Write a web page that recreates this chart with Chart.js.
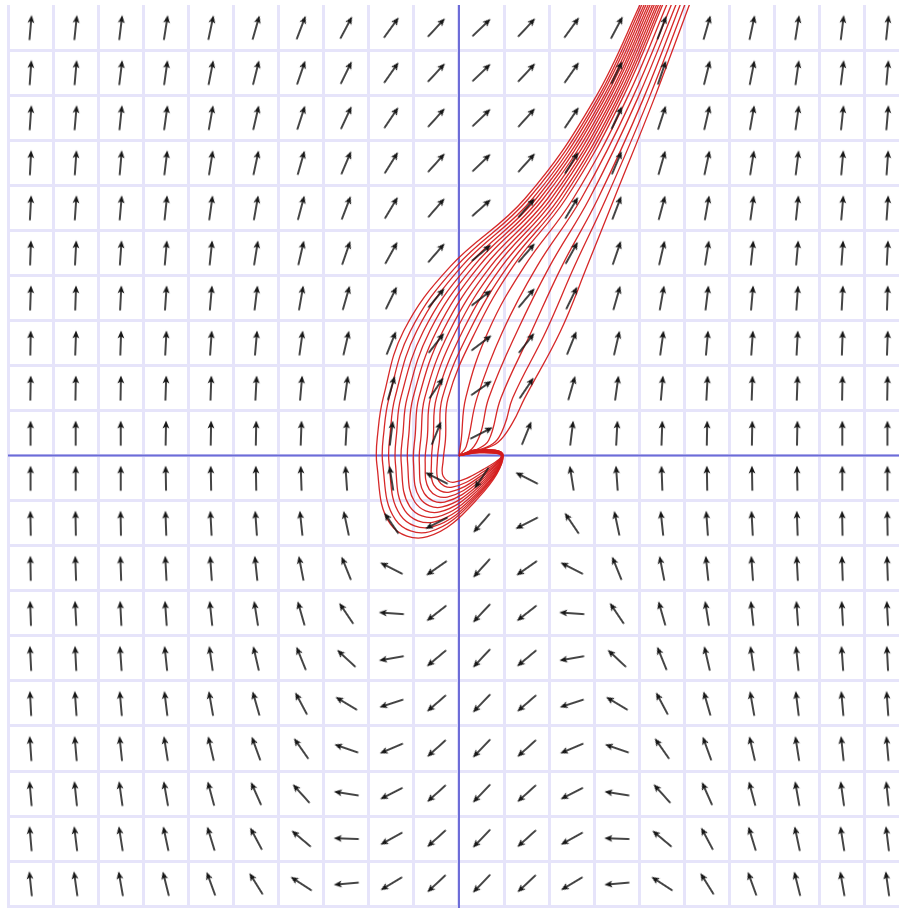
<!DOCTYPE html>
<html>
<head>
<meta charset="utf-8">
<script src="https://cdn.jsdelivr.net/npm/chart.js@4/dist/chart.umd.min.js"></script>
<style>
  html, body { margin: 0; padding: 0; background: #ffffff; overflow: hidden; }
  canvas { display: block; }
</style>
</head>
<body>
<canvas id="fieldChart" width="904" height="913"></canvas>
<script>
// arrow centres (cell middles) and their directions in degrees, clockwise from "up"
const arrowX = [-9.5, -8.5, -7.5, -6.5, -5.5, -4.5, -3.5, -2.5, -1.5, -0.5, 0.5, 1.5, 2.5, 3.5, 4.5, 5.5, 6.5, 7.5, 8.5, 9.5];
const arrowY = [9.5, 8.5, 7.5, 6.5, 5.5, 4.5, 3.5, 2.5, 1.5, 0.5, -0.5, -1.5, -2.5, -3.5, -4.5, -5.5, -6.5, -7.5, -8.5, -9.5];
const arrowAngles = [
    [5, 6, 7, 9, 12, 16, 21, 28, 36, 43, 46, 43, 36, 28, 21, 16, 12, 9, 7, 6],
    [4, 5, 7, 8, 11, 14, 19, 26, 35, 43, 46, 43, 35, 26, 19, 14, 11, 8, 7, 5],
    [4, 5, 6, 8, 10, 13, 18, 25, 34, 42, 46, 42, 34, 25, 18, 13, 10, 8, 6, 5],
    [3, 4, 5, 7, 9, 12, 16, 23, 32, 42, 46, 42, 32, 23, 16, 12, 9, 7, 5, 4],
    [3, 4, 5, 6, 8, 10, 15, 21, 31, 41, 48, 41, 31, 21, 15, 10, 8, 6, 5, 4],
    [2, 3, 4, 5, 6, 9, 13, 19, 29, 41, 50, 41, 29, 19, 13, 9, 6, 5, 4, 3],
    [2, 2, 3, 4, 5, 7, 10, 16, 26, 40, 52, 40, 26, 16, 10, 7, 5, 4, 3, 2],
    [1, 2, 2, 3, 4, 5, 8, 13, 22, 38, 53, 38, 22, 13, 8, 5, 4, 3, 2, 2],
    [1, 1, 1, 2, 2, 3, 5, 8, 16, 34, 55, 34, 16, 8, 5, 3, 2, 2, 1, 1],
    [0, 0, 0, 1, 1, 1, 2, 3, 7, 22, 63, 22, 7, 3, 2, 1, 1, 1, 0, 0],
    [0, 0, 0, -1, -1, -1, -2, -4, -9, -63, -146, -63, -9, -4, -2, -1, -1, -1, 0, 0],
    [-1, -1, -1, -2, -3, -4, -6, -12, -34, -117, -139, -117, -34, -12, -6, -4, -3, -2, -1, -1],
    [-1, -2, -2, -3, -4, -6, -11, -22, -63, -125, -138, -125, -63, -22, -11, -6, -4, -3, -2, -2],
    [-2, -3, -3, -4, -6, -9, -16, -34, -86, -128, -137, -128, -86, -34, -16, -9, -6, -4, -3, -3],
    [-3, -3, -4, -6, -8, -13, -22, -47, -100, -130, -137, -130, -100, -47, -22, -13, -8, -6, -4, -3],
    [-3, -4, -5, -7, -10, -16, -28, -59, -108, -131, -136, -131, -108, -59, -28, -16, -10, -7, -5, -4],
    [-4, -5, -6, -9, -13, -20, -35, -71, -113, -132, -136, -132, -113, -71, -35, -20, -13, -9, -6, -5],
    [-5, -6, -8, -10, -15, -24, -42, -81, -117, -132, -136, -132, -117, -81, -42, -24, -15, -10, -8, -6],
    [-5, -7, -9, -12, -17, -28, -50, -88, -119, -132, -136, -132, -119, -88, -50, -28, -17, -12, -9, -7],
    [-6, -8, -10, -14, -20, -32, -57, -95, -121, -133, -136, -133, -121, -95, -57, -32, -20, -14, -10, -8]
];

// trajectories that wind once round the origin before leaving up and to the right
const loopCurves = [
    [[0,0],[0.45,0.14],[0.98,0],[0.42,-0.95],[-0.70,-1.80],[-1.52,-1.52],[-1.82,-0.20],[-1.79,0.60],[-1.68,1.28],[-1.23,2.76],[-0.19,4.2],[1.46,5.7],[3.00,7.9],[4.15,10.3]],
    [[0,0],[0.45,0.13],[0.98,0],[0.43,-0.89],[-0.65,-1.69],[-1.41,-1.42],[-1.69,-0.19],[-1.66,0.58],[-1.55,1.28],[-1.08,2.76],[-0.06,4.2],[1.54,5.7],[3.06,7.9],[4.19,10.3]],
    [[0,0],[0.45,0.13],[0.97,0],[0.44,-0.84],[-0.59,-1.58],[-1.30,-1.32],[-1.55,-0.18],[-1.52,0.55],[-1.42,1.28],[-0.94,2.76],[0.06,4.2],[1.63,5.7],[3.11,7.9],[4.24,10.3]],
    [[0,0],[0.45,0.12],[0.97,0],[0.46,-0.78],[-0.54,-1.47],[-1.20,-1.22],[-1.41,-0.17],[-1.38,0.53],[-1.29,1.28],[-0.79,2.76],[0.19,4.2],[1.71,5.7],[3.17,7.9],[4.28,10.3]],
    [[0,0],[0.45,0.11],[0.97,0],[0.47,-0.72],[-0.48,-1.36],[-1.09,-1.13],[-1.28,-0.16],[-1.24,0.51],[-1.15,1.28],[-0.65,2.76],[0.32,4.2],[1.79,5.7],[3.22,7.9],[4.33,10.3]],
    [[0,0],[0.45,0.10],[0.96,0],[0.48,-0.66],[-0.43,-1.25],[-0.98,-1.03],[-1.14,-0.15],[-1.11,0.49],[-1.02,1.28],[-0.50,2.76],[0.44,4.2],[1.87,5.7],[3.28,7.9],[4.37,10.3]],
    [[0,0],[0.45,0.10],[0.96,0],[0.49,-0.60],[-0.37,-1.14],[-0.87,-0.94],[-1.01,-0.15],[-0.97,0.46],[-0.89,1.28],[-0.36,2.76],[0.57,4.2],[1.96,5.7],[3.33,7.9],[4.42,10.3]],
    [[0,0],[0.45,0.09],[0.96,0],[0.50,-0.54],[-0.32,-1.03],[-0.77,-0.84],[-0.88,-0.14],[-0.84,0.44],[-0.76,1.28],[-0.21,2.76],[0.70,4.2],[2.04,5.7],[3.39,7.9],[4.46,10.3]],
    [[0,0],[0.45,0.08],[0.95,0],[0.51,-0.48],[-0.26,-0.92],[-0.66,-0.75],[-0.75,-0.13],[-0.70,0.42],[-0.63,1.28],[-0.07,2.76],[0.82,4.2],[2.12,5.7],[3.44,7.9],[4.51,10.3]],
    [[0,0],[0.45,0.07],[0.95,0],[0.53,-0.42],[-0.21,-0.81],[-0.56,-0.65],[-0.61,-0.12],[-0.57,0.40],[-0.50,1.28],[0.08,2.76],[0.95,4.2],[2.21,5.7],[3.50,7.9],[4.55,10.3]],
    [[0,0],[0.45,0.07],[0.94,0],[0.54,-0.36],[-0.15,-0.70],[-0.45,-0.56],[-0.48,-0.11],[-0.43,0.37],[-0.37,1.28],[0.23,2.76],[1.08,4.2],[2.29,5.7],[3.55,7.9],[4.60,10.3]],
    [[0,0],[0.45,0.06],[0.94,0],[0.55,-0.30],[-0.10,-0.59],[-0.35,-0.46],[-0.35,-0.10],[-0.30,0.35],[-0.24,1.28],[0.37,2.76],[1.20,4.2],[2.37,5.7],[3.61,7.9],[4.64,10.3]]
];

// trajectories that leave the origin straight towards the upper right
const directCurves = [
    [[0,0],[0.05,0.35],[0.15,1.28],[0.65,2.76],[1.45,4.2],[2.53,5.7],[3.71,7.9],[4.73,10.3]],
    [[0,0],[0.16,0.2],[0.40,1.28],[0.97,2.76],[1.73,4.2],[2.71,5.7],[3.83,7.9],[4.83,10.3]],
    [[0,0],[0.28,0.14],[0.48,0.5],[0.66,1.28],[1.29,2.76],[2.01,4.2],[2.89,5.7],[3.95,7.9],[4.93,10.3]],
    [[0,0],[0.36,0.12],[0.66,0.34],[0.93,1.28],[1.61,2.76],[2.28,4.2],[3.08,5.7],[4.08,7.9],[5.02,10.3]],
    [[0,0],[0.42,0.12],[0.8,0.3],[1.02,0.7],[1.19,1.28],[1.93,2.76],[2.56,4.2],[3.26,5.7],[4.20,7.9],[5.12,10.3]],
    [[0,0],[0.45,0.12],[0.86,0.29],[1.19,0.73],[1.46,1.28],[2.25,2.76],[2.84,4.2],[3.44,5.7],[4.32,7.9],[5.22,10.3]]
];

document.addEventListener('DOMContentLoaded', function() {
    // small up-pointing arrow used as the point style, rotated per point
    const arrowImg = document.createElement('canvas');
    arrowImg.width = 30;
    arrowImg.height = 30;
    const a = arrowImg.getContext('2d');
    a.strokeStyle = '#161616';
    a.fillStyle = '#161616';
    a.lineWidth = 1.6;
    a.lineCap = 'round';
    a.beginPath();
    a.moveTo(15, 27);
    a.lineTo(15, 6);
    a.stroke();
    a.beginPath();
    a.moveTo(15, 2.5);
    a.lineTo(11.6, 10.5);
    a.lineTo(15, 8.5);
    a.lineTo(18.4, 10.5);
    a.closePath();
    a.fill();

    const arrowPoints = [];
    const arrowRot = [];
    arrowY.forEach(function(y, r) {
        arrowX.forEach(function(x, c) {
            arrowPoints.push({ x: x, y: y });
            arrowRot.push(arrowAngles[r][c]);
        });
    });

    const curveSets = loopCurves.concat(directCurves).map(function(curve) {
        return {
            data: curve.map(function(p) { return { x: p[0], y: p[1] }; }),
            showLine: true,
            borderColor: 'rgba(212, 28, 28, 0.95)',
            borderWidth: 1.3,
            pointRadius: 0,
            tension: 0.4,
            order: 2
        };
    });

    const axisLines = {
        id: 'axisLines',
        beforeDatasetsDraw(chart) {
            const { ctx, chartArea, scales } = chart;
            const x0 = scales.x.getPixelForValue(0);
            const y0 = scales.y.getPixelForValue(0);
            ctx.save();
            ctx.strokeStyle = '#6c6cd8';
            ctx.lineWidth = 2;
            ctx.beginPath();
            ctx.moveTo(x0, chartArea.top);
            ctx.lineTo(x0, chartArea.bottom);
            ctx.moveTo(chartArea.left, y0);
            ctx.lineTo(chartArea.right, y0);
            ctx.stroke();
            ctx.restore();
        }
    };

    const gridColor = function(c) {
        return c.tick && c.tick.value === 10 ? 'rgba(0,0,0,0)' : '#e6e4fa';
    };

    new Chart(document.getElementById('fieldChart').getContext('2d'), {
        type: 'scatter',
        data: {
            datasets: [{
                data: arrowPoints,
                pointStyle: arrowImg,
                pointRotation: function(c) { return arrowRot[c.dataIndex] || 0; },
                pointRadius: 4,
                showLine: false,
                order: 1
            }].concat(curveSets)
        },
        options: {
            responsive: false,
            animation: false,
            devicePixelRatio: 1,
            events: [],
            layout: { padding: { left: 8, top: 5, right: 0, bottom: 0 } },
            plugins: {
                legend: { display: false },
                tooltip: { enabled: false }
            },
            scales: {
                x: {
                    type: 'linear',
                    min: -10,
                    max: 9.757,
                    border: { display: false },
                    grid: { color: gridColor, lineWidth: 3, drawTicks: false },
                    ticks: { display: false, stepSize: 1, includeBounds: false, padding: 0 },
                    afterFit: function(s) { s.height = 0; s.paddingLeft = 0; s.paddingRight = 0; }
                },
                y: {
                    type: 'linear',
                    min: -10.04,
                    max: 10,
                    border: { display: false },
                    grid: { color: gridColor, lineWidth: 3, drawTicks: false },
                    ticks: { display: false, stepSize: 1, includeBounds: false, padding: 0 },
                    afterFit: function(s) { s.width = 0; s.paddingTop = 0; s.paddingBottom = 0; }
                }
            }
        },
        plugins: [axisLines]
    });
});
</script>
</body>
</html>
